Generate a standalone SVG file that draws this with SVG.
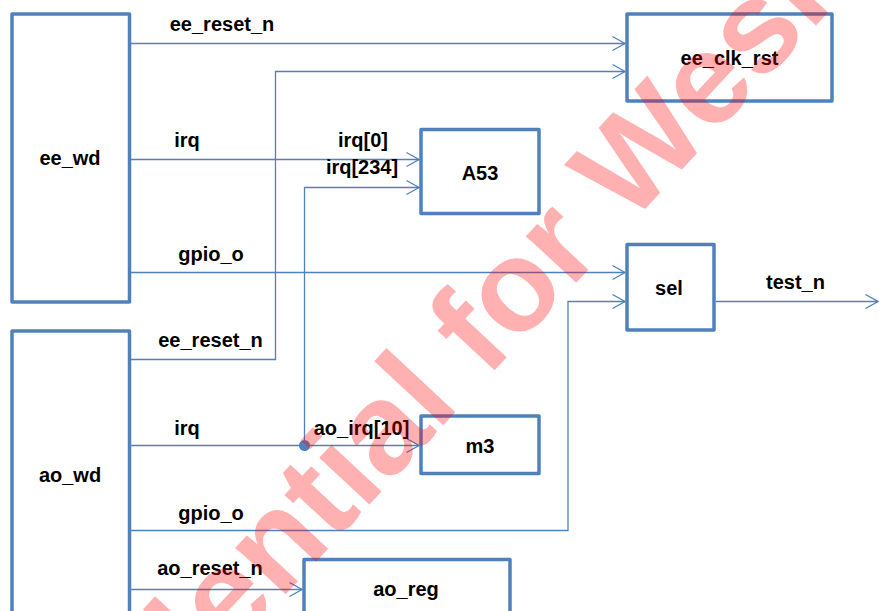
<svg xmlns="http://www.w3.org/2000/svg" width="879" height="611" viewBox="0 0 879 611">
  <style>
    .box { fill: #ffffff; stroke: #4F81BD; stroke-width: 3.5; stroke-linejoin: round; }
    .wire { fill: none; stroke: #4F81BD; stroke-width: 1.3; }
    .lbl { font-family: "Liberation Sans", Arial, sans-serif; font-weight: bold; font-size: 20px; fill: #000000; text-anchor: middle; }
    .wm { font-family: "Liberation Sans", Arial, sans-serif; font-weight: bold; font-size: 130px; fill: #ff0000; opacity: 0.3; }
  </style>
  <defs>
    <marker id="arr" markerUnits="userSpaceOnUse" markerWidth="16" markerHeight="18" viewBox="-14 -9 16 18" refX="0" refY="0" orient="auto">
      <path d="M -12.5 -7 L 0 0 L -12.5 7" fill="none" stroke="#4F81BD" stroke-width="1.3"/>
    </marker>
  </defs>
  <rect width="879" height="611" fill="#ffffff"/>

  <g id="ee_wd">
    <rect class="box" x="12" y="14" width="117.5" height="288"/>
    <text class="lbl" x="70" y="165">ee_wd</text>
  </g>
  <g id="ao_wd">
    <rect class="box" x="12" y="331" width="117.5" height="300"/>
    <text class="lbl" x="70" y="482">ao_wd</text>
  </g>
  <g id="ee_clk_rst">
    <rect class="box" x="627" y="14" width="205" height="87"/>
    <text class="lbl" x="729.5" y="65">ee_clk_rst</text>
  </g>
  <g id="A53">
    <rect class="box" x="421" y="129.5" width="118" height="84"/>
    <text class="lbl" x="480" y="180">A53</text>
  </g>
  <g id="sel">
    <rect class="box" x="627" y="244.5" width="87" height="85.5"/>
    <text class="lbl" x="669" y="295">sel</text>
  </g>
  <g id="m3">
    <rect class="box" x="421" y="416" width="118" height="57.5"/>
    <text class="lbl" x="480" y="453">m3</text>
  </g>
  <g id="ao_reg">
    <rect class="box" x="304" y="559.5" width="206" height="80"/>
    <text class="lbl" x="406" y="596">ao_reg</text>
  </g>

  <g id="connectors">
    <path class="wire" d="M 131 43.5 L 625 43.5" marker-end="url(#arr)"/>
    <path class="wire" d="M 131 359.5 L 275.5 359.5 L 275.5 71.5 L 625 71.5" marker-end="url(#arr)"/>
    <path class="wire" d="M 131 159.5 L 419 159.5" marker-end="url(#arr)"/>
    <path class="wire" d="M 304.5 445.5 L 304.5 187.5 L 419 187.5" marker-end="url(#arr)"/>
    <path class="wire" d="M 131 272.5 L 625 272.5" marker-end="url(#arr)"/>
    <path class="wire" d="M 131 530.5 L 568 530.5 L 568 301.5 L 625 301.5" marker-end="url(#arr)"/>
    <path class="wire" d="M 131 445.5 L 419 445.5" marker-end="url(#arr)"/>
    <circle cx="304.5" cy="445.5" r="5.5" fill="#4F81BD"/>
    <path class="wire" d="M 131 589.5 L 302 589.5" marker-end="url(#arr)"/>
    <path class="wire" d="M 716 301.5 L 878 301.5" marker-end="url(#arr)"/>

    <text class="lbl" x="222" y="30.5">ee_reset_n</text>
    <text class="lbl" x="187" y="146.5">irq</text>
    <text class="lbl" x="363" y="146.5">irq[0]</text>
    <text class="lbl" x="362" y="174">irq[234]</text>
    <text class="lbl" x="211" y="260.5">gpio_o</text>
    <text class="lbl" x="210.5" y="347">ee_reset_n</text>
    <text class="lbl" x="795.5" y="289">test_n</text>
    <text class="lbl" x="187" y="435">irq</text>
    <text class="lbl" x="361.5" y="434.5">ao_irq[10]</text>
    <text class="lbl" x="211" y="520">gpio_o</text>
    <text class="lbl" x="210" y="575">ao_reset_n</text>
  </g>

  <text class="wm" transform="translate(176 712) rotate(-47)" x="0" y="0">dential for Wesle</text>
</svg>
